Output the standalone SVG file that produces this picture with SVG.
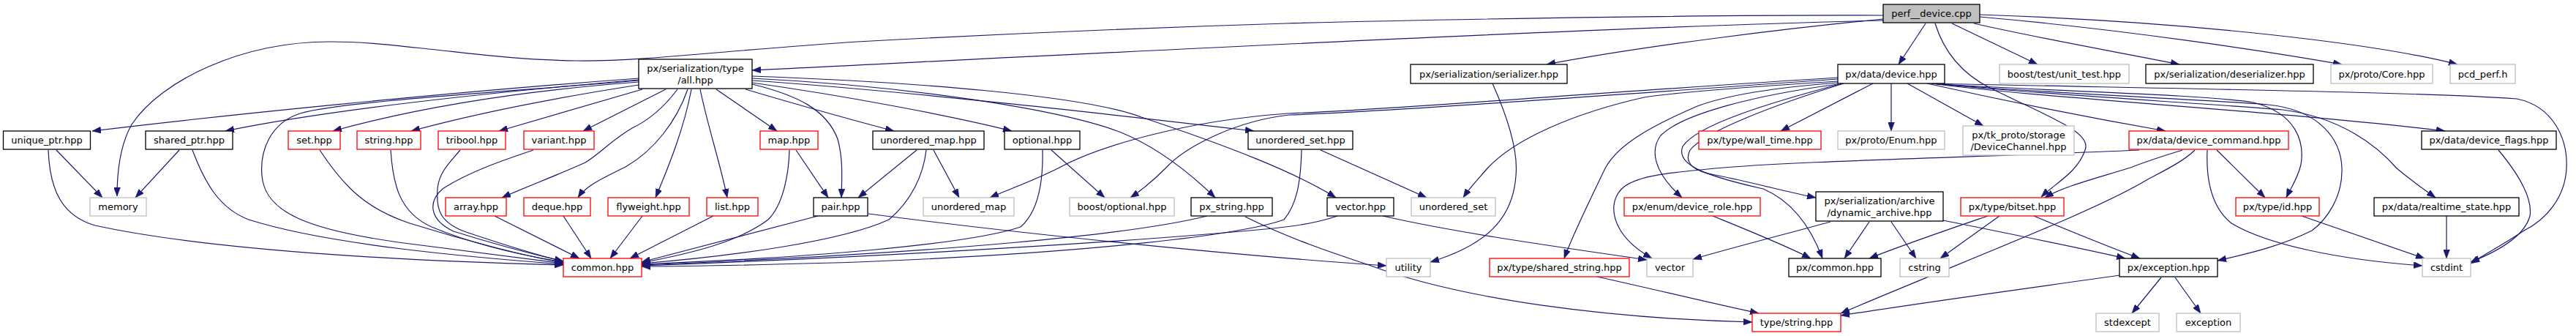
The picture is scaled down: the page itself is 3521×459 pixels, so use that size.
<svg xmlns="http://www.w3.org/2000/svg" width="3521" height="459" viewBox="0 0 3521 459">
<style>
rect{fill:#fff;stroke-width:1.3}
.b{stroke:#000}
.r{stroke:#f00}
.g{stroke:#bfbfbf}
.root{fill:#bfbfbf;stroke:#000}
text{font-family:"DejaVu Sans","Liberation Sans",sans-serif;font-size:13px;fill:#000;text-anchor:middle}
#edges path{fill:none;stroke:#191970;stroke-width:1.2;marker-end:url(#ah)}
</style>
<defs>
<marker id="ah" markerUnits="userSpaceOnUse" markerWidth="12" markerHeight="9" refX="12" refY="4.5" orient="auto">
<path d="M0,0 L12,4.5 L0,9 z" fill="#191970" stroke="#191970" stroke-width="0.5"/>
</marker>
</defs>
<rect x="0" y="0" width="3521" height="459" style="fill:#fff;stroke:none"/>
<g id="edges">
<path d="M2574,21 C2300,20 1900,28 1758,32 C1500,40 1300,50 1172,57 C1000,68 880,84 789,83 C700,82 620,70 586,67 C540,62 500,57 451,57 C330,57 220,110 180,170 C163,200 160,240 160,268"/>
<path d="M2574,28 C2200,36 1400,78 1028,96"/>
<path d="M2574,26 C2450,38 2250,62 2114,88"/>
<path d="M2632,32 L2595,88"/>
<path d="M2668,32 L2785,88"/>
<path d="M2698,32 C2800,55 2900,72 2979,88"/>
<path d="M2706,23 C2900,40 3100,70 3201,88"/>
<path d="M2706,20 C3000,30 3250,60 3359,88"/>
<path d="M2645,32 C2660,80 2690,105 2720,120 C2800,160 2860,180 2850,205 C2840,235 2810,250 2790,269"/>
<path d="M873,107 C600,127 300,158 126,179"/>
<path d="M873,109 C650,128 450,150 308,179"/>
<path d="M873,112 C700,125 560,150 455,179"/>
<path d="M873,116 C750,135 650,155 562,179"/>
<path d="M873,110 C700,125 470,138 410,155 C370,168 355,205 358,240 C362,290 420,315 560,333 C650,345 720,353 770,360"/>
<path d="M878,122 L682,179"/>
<path d="M910,122 L797,179"/>
<path d="M926,122 C905,150 885,165 864,175 C835,192 820,210 800,222 C760,240 720,255 686,270"/>
<path d="M940,122 C925,165 895,205 855,228 C820,245 800,255 790,270"/>
<path d="M945,122 C935,175 915,225 896,270"/>
<path d="M957,122 C968,175 985,225 994,270"/>
<path d="M979,122 L1062,179"/>
<path d="M1028,115 C1090,130 1130,150 1145,190 C1152,215 1151,240 1150,270"/>
<path d="M1019,122 C1080,140 1150,160 1222,179"/>
<path d="M1028,113 C1150,130 1300,158 1383,179"/>
<path d="M1028,110 C1250,125 1550,160 1714,179"/>
<path d="M1028,107 C1250,118 1450,150 1530,180 C1580,200 1625,235 1661,270"/>
<path d="M1028,104 C1250,112 1480,130 1560,160 C1680,200 1770,235 1826,270"/>
<path d="M77,205 L140,270"/>
<path d="M66,205 C68,260 85,295 130,308 C300,345 600,358 770,362"/>
<path d="M245,205 L185,270"/>
<path d="M263,205 C280,250 300,285 340,300 C450,335 650,352 770,361"/>
<path d="M437,205 C470,255 500,285 560,305 C640,330 720,350 770,359"/>
<path d="M534,205 C537,250 545,290 590,310 C650,335 720,350 770,358"/>
<path d="M629,205 C615,222 600,235 598,258 C596,285 600,305 640,318 C700,338 740,350 770,357"/>
<path d="M729,205 C690,218 640,235 605,258 C585,275 586,300 620,316 C690,338 740,350 770,357"/>
<path d="M676,295 L792,353"/>
<path d="M770,295 L808,353"/>
<path d="M878,295 L834,353"/>
<path d="M975,295 L861,353"/>
<path d="M1118,295 L877,358"/>
<path d="M1079,205 C1078,240 1070,280 1050,300 C1010,330 950,345 877,359"/>
<path d="M1266,205 C1262,240 1245,275 1215,300 C1150,330 1000,350 877,360"/>
<path d="M1425,205 C1426,250 1418,290 1395,310 C1320,335 1100,352 877,361"/>
<path d="M1650,295 C1550,320 1300,345 877,362"/>
<path d="M1828,295 C1800,305 1770,309 1740,312 C1500,335 1100,355 877,363"/>
<path d="M1779,205 C1778,250 1772,280 1755,300 C1700,320 1500,345 1172,358 C1000,363 920,364 877,364"/>
<path d="M1088,205 L1132,270"/>
<path d="M1253,205 L1173,270"/>
<path d="M1276,205 L1311,270"/>
<path d="M1437,205 L1510,270"/>
<path d="M1187,292 C1400,320 1700,350 1895,363"/>
<path d="M1702,296 C1760,325 1820,345 1871,362 C2000,410 2200,435 2395,440"/>
<path d="M1805,205 L1950,270"/>
<path d="M2040,114 C2065,170 2075,210 2072,240 C2068,300 2030,335 1955,358"/>
<path d="M1890,295 C2000,320 2150,340 2251,355"/>
<path d="M2512,106 C2200,125 1900,150 1760,155 C1620,165 1500,200 1446,230 C1410,248 1380,258 1353,270"/>
<path d="M2512,108 C2200,130 1900,152 1762,157 C1690,165 1620,200 1593,230 C1575,248 1560,260 1545,270"/>
<path d="M2512,111 C2400,118 2300,125 2247,133 C2150,155 2070,190 2033,230 C2020,245 2010,255 2000,270"/>
<path d="M2512,113 C2420,120 2360,130 2320,145 C2250,175 2210,200 2194,230 C2170,280 2150,320 2138,353"/>
<path d="M2512,115 C2400,130 2300,155 2270,185 C2255,205 2260,235 2299,270"/>
<path d="M2518,114 C2420,140 2320,170 2300,200 C2290,225 2330,240 2410,258 C2450,275 2475,310 2491,353"/>
<path d="M2520,114 C2420,145 2330,180 2310,205 C2300,225 2320,235 2344,239 C2400,250 2440,262 2482,270"/>
<path d="M2560,114 L2434,179"/>
<path d="M2585,114 L2585,179"/>
<path d="M2607,114 L2711,172"/>
<path d="M2634,114 C2750,140 2880,165 2960,179"/>
<path d="M2640,114 C2800,135 3100,150 3342,179"/>
<path d="M2640,114 C2800,130 3000,140 3120,150 C3200,160 3250,200 3276,230 C3300,250 3315,260 3329,270"/>
<path d="M2640,114 C2800,128 3000,135 3100,143 C3170,150 3200,190 3201,230 C3202,270 3180,300 3160,315 C3120,335 3080,345 3031,356"/>
<path d="M2640,114 C2800,125 3000,128 3080,140 C3140,155 3150,195 3145,225 C3140,245 3132,255 3125,270"/>
<path d="M2640,114 C2900,120 3300,125 3440,135 C3490,145 3510,190 3508,230 C3506,270 3480,300 3450,315 C3420,335 3400,345 3377,360"/>
<path d="M2983,205 C2950,215 2930,222 2912,229 C2860,245 2820,255 2795,270"/>
<path d="M3000,205 C2985,220 2960,232 2934,246 C2860,290 2700,350 2516,428"/>
<path d="M3017,205 C3015,250 3025,285 3050,305 C3100,335 3200,355 3311,363"/>
<path d="M3030,205 L3096,270"/>
<path d="M2924,205 C2700,215 2450,220 2344,230 C2280,236 2240,240 2220,255 C2195,275 2200,320 2258,353"/>
<path d="M2502,303 C2440,320 2380,335 2314,354"/>
<path d="M2341,295 C2390,315 2440,335 2475,353"/>
<path d="M2555,303 L2521,353"/>
<path d="M2585,303 L2619,353"/>
<path d="M2656,301 C2750,320 2850,340 2905,353"/>
<path d="M2717,295 C2650,318 2600,335 2555,353"/>
<path d="M2733,295 L2652,353"/>
<path d="M2780,295 C2840,320 2890,340 2925,353"/>
<path d="M2183,378 C2260,395 2330,412 2404,428"/>
<path d="M2897,376 C2800,390 2650,410 2516,431"/>
<path d="M2954,379 L2914,428"/>
<path d="M2973,379 L3008,428"/>
<path d="M3146,295 L3314,353"/>
<path d="M3344,295 L3344,353"/>
<path d="M3415,205 C3440,235 3462,270 3458,295 C3450,325 3410,345 3377,358"/>
</g>
<g id="n_P"><rect class="root" x="2574" y="6" width="132" height="25"/><text x="2640" y="23">perf__device.cpp</text></g>
<g id="n_all"><rect class="b" x="873" y="81" width="155" height="40"/><text x="950.5" y="98">px/serialization/type</text><text x="950.5" y="114">/all.hpp</text></g>
<g id="n_ser"><rect class="b" x="1928" y="88" width="214" height="26"/><text x="2035" y="105.5">px/serialization/serializer.hpp</text></g>
<g id="n_D"><rect class="b" x="2512" y="88" width="146" height="26"/><text x="2585" y="105.5">px/data/device.hpp</text></g>
<g id="n_ut"><rect class="g" x="2733" y="88" width="177" height="26"/><text x="2821.5" y="105.5">boost/test/unit_test.hpp</text></g>
<g id="n_des"><rect class="b" x="2933" y="88" width="229" height="26"/><text x="3047.5" y="105.5">px/serialization/deserializer.hpp</text></g>
<g id="n_core"><rect class="g" x="3186" y="88" width="139" height="26"/><text x="3255.5" y="105.5">px/proto/Core.hpp</text></g>
<g id="n_pcd"><rect class="g" x="3349" y="88" width="89" height="26"/><text x="3393.5" y="105.5">pcd_perf.h</text></g>
<g id="n_uptr"><rect class="b" x="4.5" y="179" width="119" height="25"/><text x="64" y="196">unique_ptr.hpp</text></g>
<g id="n_sptr"><rect class="b" x="199" y="179" width="119" height="25"/><text x="258.5" y="196">shared_ptr.hpp</text></g>
<g id="n_set"><rect class="r" x="394" y="179" width="71" height="25"/><text x="429.5" y="196">set.hpp</text></g>
<g id="n_string"><rect class="r" x="488" y="179" width="87" height="25"/><text x="531.5" y="196">string.hpp</text></g>
<g id="n_tribool"><rect class="r" x="599" y="179" width="92" height="25"/><text x="645" y="196">tribool.hpp</text></g>
<g id="n_variant"><rect class="r" x="716" y="179" width="96" height="25"/><text x="764" y="196">variant.hpp</text></g>
<g id="n_map"><rect class="r" x="1039" y="179" width="79" height="25"/><text x="1078.5" y="196">map.hpp</text></g>
<g id="n_umaphpp"><rect class="b" x="1193" y="179" width="152" height="25"/><text x="1269" y="196">unordered_map.hpp</text></g>
<g id="n_opt"><rect class="b" x="1373" y="179" width="103" height="25"/><text x="1424.5" y="196">optional.hpp</text></g>
<g id="n_usethpp"><rect class="b" x="1706" y="179" width="143" height="25"/><text x="1777.5" y="196">unordered_set.hpp</text></g>
<g id="n_wall"><rect class="r" x="2322" y="179" width="167" height="25"/><text x="2405.5" y="196">px/type/wall_time.hpp</text></g>
<g id="n_enum"><rect class="g" x="2512" y="179" width="146" height="25"/><text x="2585" y="196">px/proto/Enum.hpp</text></g>
<g id="n_devch"><rect class="g" x="2683" y="172" width="152" height="40"/><text x="2759" y="189">px/tk_proto/storage</text><text x="2759" y="205">/DeviceChannel.hpp</text></g>
<g id="n_dc"><rect class="r" x="2910" y="179" width="218" height="25"/><text x="3019" y="196">px/data/device_command.hpp</text></g>
<g id="n_flags"><rect class="b" x="3310" y="179" width="184" height="25"/><text x="3402" y="196">px/data/device_flags.hpp</text></g>
<g id="n_memory"><rect class="g" x="123" y="270" width="77" height="25"/><text x="161.5" y="287">memory</text></g>
<g id="n_array"><rect class="r" x="609" y="270" width="83" height="25"/><text x="650.5" y="287">array.hpp</text></g>
<g id="n_deque"><rect class="r" x="716" y="270" width="91" height="25"/><text x="761.5" y="287">deque.hpp</text></g>
<g id="n_fly"><rect class="r" x="831" y="270" width="111" height="25"/><text x="886.5" y="287">flyweight.hpp</text></g>
<g id="n_list"><rect class="r" x="966" y="270" width="70" height="25"/><text x="1001" y="287">list.hpp</text></g>
<g id="n_pair"><rect class="b" x="1112" y="270" width="74" height="25"/><text x="1149" y="287">pair.hpp</text></g>
<g id="n_umap"><rect class="g" x="1262" y="270" width="124" height="25"/><text x="1324" y="287">unordered_map</text></g>
<g id="n_bopt"><rect class="g" x="1462" y="270" width="143" height="25"/><text x="1533.5" y="287">boost/optional.hpp</text></g>
<g id="n_pxstr"><rect class="b" x="1628" y="270" width="111" height="25"/><text x="1683.5" y="287">px_string.hpp</text></g>
<g id="n_vechpp"><rect class="b" x="1814" y="270" width="91" height="25"/><text x="1859.5" y="287">vector.hpp</text></g>
<g id="n_uset"><rect class="g" x="1929" y="270" width="115" height="25"/><text x="1986.5" y="287">unordered_set</text></g>
<g id="n_role"><rect class="r" x="2220" y="270" width="186" height="25"/><text x="2313" y="287">px/enum/device_role.hpp</text></g>
<g id="n_dyn"><rect class="b" x="2482" y="262" width="174" height="40"/><text x="2569" y="279">px/serialization/archive</text><text x="2569" y="295">/dynamic_archive.hpp</text></g>
<g id="n_bitset"><rect class="r" x="2680" y="270" width="141" height="25"/><text x="2750.5" y="287">px/type/bitset.hpp</text></g>
<g id="n_id"><rect class="r" x="3056" y="270" width="114" height="25"/><text x="3113" y="287">px/type/id.hpp</text></g>
<g id="n_rt"><rect class="b" x="3245" y="270" width="198" height="25"/><text x="3344" y="287">px/data/realtime_state.hpp</text></g>
<g id="n_common"><rect class="r" x="770" y="353" width="107" height="25"/><text x="823.5" y="370">common.hpp</text></g>
<g id="n_utility"><rect class="g" x="1895" y="353" width="60" height="25"/><text x="1925" y="370">utility</text></g>
<g id="n_sstr"><rect class="r" x="2036" y="353" width="191" height="25"/><text x="2131.5" y="370">px/type/shared_string.hpp</text></g>
<g id="n_vector"><rect class="g" x="2251" y="353" width="63" height="25"/><text x="2282.5" y="370">vector</text></g>
<g id="n_pxcommon"><rect class="b" x="2445" y="353" width="126" height="25"/><text x="2508" y="370">px/common.hpp</text></g>
<g id="n_cstring"><rect class="g" x="2597" y="353" width="67" height="25"/><text x="2630.5" y="370">cstring</text></g>
<g id="n_exc"><rect class="b" x="2897" y="353" width="134" height="25"/><text x="2964" y="370">px/exception.hpp</text></g>
<g id="n_cstdint"><rect class="g" x="3311" y="353" width="66" height="25"/><text x="3344" y="370">cstdint</text></g>
<g id="n_tstr"><rect class="r" x="2395" y="428" width="121" height="25"/><text x="2455.5" y="445">type/string.hpp</text></g>
<g id="n_stdexc"><rect class="g" x="2865" y="428" width="86" height="25"/><text x="2908" y="445">stdexcept</text></g>
<g id="n_exception"><rect class="g" x="2975" y="428" width="87" height="25"/><text x="3018.5" y="445">exception</text></g>
</svg>
